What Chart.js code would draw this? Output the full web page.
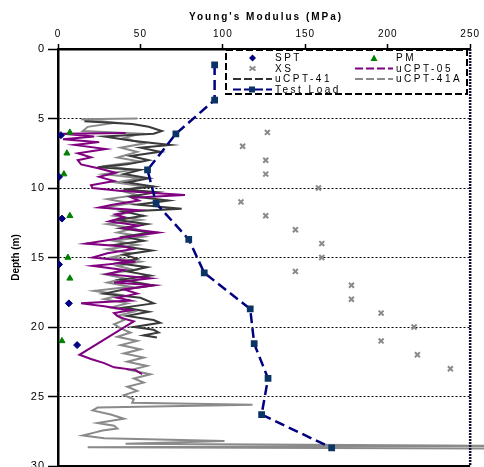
<!DOCTYPE html>
<html>
<head>
<meta charset="utf-8">
<script src="https://cdn.jsdelivr.net/npm/chart.js@4.4.0/dist/chart.umd.min.js"></script>
<style>
  html, body { margin: 0; padding: 0; background: #fff; overflow: hidden; }
  #wrap { width: 484px; height: 480px; }
</style>
</head>
<body>
<div id="wrap"><canvas id="chart" width="484" height="480"></canvas></div>
<script>
// axis ticks
const xTicks = [0, 50, 100, 150, 200, 250];
const yTicks = [0, 5, 10, 15, 20, 25, 30];

// SPT
const sptDepth = [6.2, 9.2, 12.2, 15.5, 18.3, 21.3];
const sptValue = [1.8, 0.6, 2.4, 0.6, 6.6, 11.6];

// PM
const pmDepth = [6.0, 7.5, 9.0, 12.0, 15.0, 16.5, 21.0];
const pmValue = [7.2, 5.4, 3.6, 7.2, 6.0, 7.2, 2.4];

// XS
const xsDepth = [6, 7, 8, 9, 10, 11, 12, 13, 14, 15, 16, 17, 18, 19, 20, 21, 22, 23];
const xsValue = [127, 112, 126, 126, 158, 111, 126, 144, 160, 160, 144, 178, 178, 196, 216, 196, 218, 238];

// Test Load
const testDepth = [1.15, 3.67, 6.1, 8.7, 11.1, 13.7, 16.1, 18.7, 21.2, 23.7, 26.3, 28.7];
const testValue = [95, 95, 71.5, 54.3, 59.5, 79.3, 88.7, 116.6, 119, 127.4, 123.5, 166];

// uCPT-41
const u41Depth = [5.2, 5.4, 5.6, 5.9, 6.1, 6.3, 6.6, 6.9, 7.1, 7.4, 7.7, 8.0, 8.3, 8.5, 8.7, 9.0, 9.3, 9.6, 9.9,
  10.1, 10.3, 10.6, 10.9, 11.2, 11.5, 11.7, 12.0, 12.3, 12.6, 12.9, 13.2, 13.5, 13.8, 14.1, 14.5, 14.8,
  15.1, 15.4, 15.7, 16.0, 16.3, 16.6, 17.0, 17.3, 17.6, 17.9, 18.3, 18.6, 18.9, 19.2, 19.5, 19.7, 20.0,
  20.2, 20.4, 20.6, 20.75];
const u41Value = [16, 45, 55, 63, 58, 28, 45, 68, 50, 62, 44, 55, 42, 24, 50, 40, 55, 42, 58,
  40, 60, 45, 67, 48, 75, 40, 52, 36, 54, 38, 56, 40, 52, 34, 57, 40,
  48, 36, 54, 42, 56, 38, 58, 40, 28, 50, 58, 40, 55, 42, 58, 62, 46,
  58, 61, 52, 60];

// uCPT-41A
const u41aDepth = [5.0, 5.05, 5.3, 5.6, 5.9, 6.1, 6.4, 6.8, 7.1, 7.4, 7.8, 8.1, 8.4, 8.7, 9.0, 9.3, 9.6, 9.9,
  10.2, 10.5, 10.8, 11.1, 11.4, 11.7, 12.0, 12.3, 12.6, 12.9, 13.2, 13.5, 13.8, 14.1, 14.4, 14.7,
  15.0, 15.3, 15.6, 15.9, 16.2, 16.5, 16.8, 17.1, 17.4, 17.7, 18.0, 18.3, 18.6, 18.9, 19.2, 19.5, 19.8,
  20.1, 20.4, 20.7, 21.0, 21.3, 21.6, 21.9, 22.2, 22.5, 22.8, 23.1, 23.4, 23.7, 24.0, 24.3, 24.6, 24.9,
  25.2, 25.45, 25.6, 25.8, 26.0, 26.3, 26.6, 26.9, 27.1, 27.3, 27.45, 27.6, 27.8, 28.0, 28.2, 28.4,
  28.55, 28.65, 28.75];
const u41aValue = [48, 14, 35, 18, 15, 50, 40, 52, 38, 48, 36, 50, 30, 45, 28, 50, 35, 52,
  38, 48, 30, 44, 28, 45, 34, 50, 30, 46, 36, 52, 34, 48, 30, 44,
  32, 50, 36, 46, 28, 40, 30, 44, 22, 38, 28, 42, 32, 46, 36, 40, 34,
  38, 44, 36, 48, 38, 50, 40, 52, 42, 54, 44, 56, 46, 52, 42, 48, 40,
  46, 45, 118, 24, 21, 32, 40, 24, 34, 36, 27, 22, 15, 28, 101, 41,
  270, 18, 270];

// uCPT-05
const u05Depth = [6.05, 6.1, 6.3, 6.5, 6.7, 6.9, 7.2, 7.5, 7.8, 8.0, 8.3, 8.6, 8.9, 9.2, 9.5, 9.8,
  10.0, 10.2, 10.5, 10.7, 10.9, 11.2, 11.4, 11.6, 11.9, 12.1, 12.4, 12.7, 12.9, 13.2, 13.5, 13.8,
  14.0, 14.2, 14.4, 14.7, 15.0, 15.3, 15.6, 15.9, 16.2, 16.5, 16.8, 17.0, 17.3, 17.6, 17.9, 18.1,
  18.3, 18.5, 18.8, 19.0, 19.2, 19.4, 19.6, 22.0, 22.3, 22.6, 22.9, 23.1, 23.4];
const u05Value = [41, 3, 22, 3, 25, 10, 29, 12, 20, 12, 14, 25, 35, 25, 34, 20,
  21, 37, 77, 45, 49, 33, 25, 49, 35, 40, 31, 49, 40, 61, 43, 28,
  17, 40, 45, 30, 21, 47, 21, 40, 30, 56, 34, 58, 40, 48, 36, 44,
  14, 28, 44, 34, 36, 40, 46, 13, 20, 28, 34, 47, 51];

const seriesNames = ['SPT', 'PM', 'XS', 'uCPT-05', 'uCPT-41', 'uCPT-41A', 'Test Load'];

function pts(v, d) {
  return v.map((x, i) => ({ x: x, y: d[i] }));
}

const FONT = 'Liberation Sans, Arial, sans-serif';

const spacing = {
  id: 'spacing',
  beforeUpdate(c) { c.ctx.letterSpacing = '1px'; },
  beforeDraw(c) { c.ctx.letterSpacing = '1px'; }
};

// frame, axis titles and the two-column legend
const extras = {
  id: 'extras',
  afterDraw(c) {
    const ctx = c.ctx;
    const a = c.chartArea;
    ctx.save();
    ctx.setLineDash([]);
    ctx.strokeStyle = '#000';
    ctx.lineWidth = 2;
    ctx.beginPath();
    ctx.moveTo(a.left, a.bottom);
    ctx.lineTo(a.right, a.bottom);
    ctx.stroke();
    ctx.strokeStyle = '#101030';
    ctx.setLineDash([2, 1]);
    ctx.lineWidth = 2.5;
    ctx.beginPath();
    ctx.moveTo(a.right, a.top);
    ctx.lineTo(a.right, a.bottom);
    ctx.stroke();

    // titles
    ctx.setLineDash([]);
    ctx.fillStyle = '#000';
    ctx.font = 'bold 10px ' + FONT;
    ctx.letterSpacing = '2px';
    ctx.textAlign = 'center';
    ctx.textBaseline = 'middle';
    ctx.fillText("Young's Modulus (MPa)", (a.left + a.right) / 2 + 2, 17);
    ctx.letterSpacing = '0px';
    ctx.translate(16, (a.top + a.bottom) / 2);
    ctx.rotate(-Math.PI / 2);
    ctx.fillText('Depth (m)', 0, 0);
    ctx.restore();

    // legend
    ctx.save();
    const bx = 226, by = 50, bw = 241, bh = 44;
    ctx.fillStyle = '#fff';
    ctx.fillRect(bx, by, bw, bh);
    const rows = [58, 68.5, 79, 89.5];
    const entries = [
      { name: seriesNames[0], col: 0, row: 0, kind: 'spt' },
      { name: seriesNames[1], col: 1, row: 0, kind: 'pm' },
      { name: seriesNames[2], col: 0, row: 1, kind: 'xs' },
      { name: seriesNames[3], col: 1, row: 1, kind: 'line', color: '#800080' },
      { name: seriesNames[4], col: 0, row: 2, kind: 'line', color: '#333333' },
      { name: seriesNames[5], col: 1, row: 2, kind: 'line', color: '#8a8a8a' },
      { name: seriesNames[6], col: 0, row: 3, kind: 'test' }
    ];
    const cols = [{ x0: 233, x1: 272, tx: 275 }, { x0: 355, x1: 393, tx: 396 }];
    ctx.font = '10px ' + FONT;
    ctx.letterSpacing = '2.5px';
    ctx.textAlign = 'left';
    ctx.textBaseline = 'middle';
    entries.forEach(e => {
      const cl = cols[e.col];
      const y = rows[e.row];
      const mx = (cl.x0 + cl.x1) / 2;
      if (e.kind === 'spt') {
        ctx.fillStyle = '#000080';
        ctx.beginPath();
        ctx.moveTo(mx, y - 3.5); ctx.lineTo(mx + 3.5, y); ctx.lineTo(mx, y + 3.5); ctx.lineTo(mx - 3.5, y);
        ctx.closePath(); ctx.fill();
      } else if (e.kind === 'pm') {
        ctx.fillStyle = '#008000';
        ctx.beginPath();
        ctx.moveTo(mx, y - 3.5); ctx.lineTo(mx + 3.5, y + 3); ctx.lineTo(mx - 3.5, y + 3);
        ctx.closePath(); ctx.fill();
      } else if (e.kind === 'xs') {
        ctx.strokeStyle = '#8a8a8a'; ctx.lineWidth = 2; ctx.setLineDash([]);
        ctx.beginPath();
        ctx.moveTo(mx - 3, y - 2); ctx.lineTo(mx + 3, y + 2);
        ctx.moveTo(mx - 3, y + 2); ctx.lineTo(mx + 3, y - 2);
        ctx.stroke();
      } else {
        const col = e.kind === 'test' ? '#000080' : e.color;
        ctx.strokeStyle = col; ctx.lineWidth = 2; ctx.setLineDash([8, 3]);
        ctx.beginPath(); ctx.moveTo(cl.x0, y); ctx.lineTo(cl.x1, y); ctx.stroke();
        if (e.kind === 'test') {
          ctx.fillStyle = '#0a3366';
          ctx.fillRect(252 - 3, y - 3, 6, 6);
        }
      }
      ctx.setLineDash([]);
      ctx.fillStyle = '#000';
      ctx.fillText(e.name, cl.tx, y + 0.5);
    });
    ctx.strokeStyle = '#000';
    ctx.lineWidth = 2;
    ctx.setLineDash([7, 3]);
    ctx.strokeRect(bx, by, bw, bh);
    ctx.restore();
  }
};

new Chart(document.getElementById('chart'), {
  type: 'scatter',
  data: {
    datasets: [
      { label: seriesNames[0], data: pts(sptValue, sptDepth), pointStyle: 'rectRot', pointRadius: 3.5,
        backgroundColor: '#000080', borderColor: '#000080', showLine: false, order: 0 },
      { label: seriesNames[1], data: pts(pmValue, pmDepth), pointStyle: 'triangle', pointRadius: 3.5,
        backgroundColor: '#008000', borderColor: '#008000', showLine: false, order: 1 },
      { label: seriesNames[2], data: pts(xsValue, xsDepth), pointStyle: 'crossRot', pointRadius: 3.5,
        borderWidth: 2, backgroundColor: '#8a8a8a', borderColor: '#8a8a8a', showLine: false, order: 2 },
      { label: seriesNames[6], data: pts(testValue, testDepth), pointStyle: 'rect', pointRadius: 3,
        backgroundColor: '#0a3366', pointBorderColor: '#0a3366', borderColor: '#000080', borderWidth: 2.5,
        borderDash: [10, 5], showLine: true, order: 3 },
      { label: seriesNames[3], data: pts(u05Value, u05Depth), pointRadius: 0, borderColor: '#800080',
        borderWidth: 2, showLine: true, order: 4 },
      { label: seriesNames[4], data: pts(u41Value, u41Depth), pointRadius: 0, borderColor: '#3a3a3a',
        borderWidth: 2, showLine: true, order: 5 },
      { label: seriesNames[5], data: pts(u41aValue, u41aDepth), pointRadius: 0, borderColor: '#8a8a8a',
        borderWidth: 2, showLine: true, clip: false, order: 6 }
    ]
  },
  options: {
    responsive: false,
    animation: false,
    layout: { padding: { top: 0, left: 0, right: 10, bottom: 14 } },
    plugins: { legend: { display: false }, tooltip: { enabled: false } },
    scales: {
      x: {
        position: 'top',
        min: 0, max: 250,
        afterBuildTicks(s) { s.ticks = xTicks.map(v => ({ value: v })); },
        afterFit(s) { s.height = 49; },
        grid: { drawOnChartArea: false, drawTicks: true, tickLength: 5, tickColor: '#000', tickWidth: 1.5 },
        border: { display: true, color: '#000', width: 2.5 },
        ticks: { color: '#000', font: { family: FONT, size: 10 }, padding: 4, maxRotation: 0 }
      },
      y: {
        reverse: true,
        min: 0, max: 30,
        afterBuildTicks(s) { s.ticks = yTicks.map(v => ({ value: v })); },
        afterFit(s) { s.width = 58; },
        grid: {
          color: ctx => (ctx.tick && (ctx.tick.value === 0 || ctx.tick.value === 30)) ? 'rgba(0,0,0,0)' : '#000',
          lineWidth: 1, drawTicks: true, tickLength: 10, tickColor: '#000', tickWidth: 1.5, tickBorderDash: []
        },
        border: { display: true, color: '#000', width: 2.5, dash: [2, 2] },
        ticks: { color: '#000', font: { family: FONT, size: 11 }, padding: 3 }
      }
    }
  },
  plugins: [spacing, extras]
});
</script>
</body>
</html>
